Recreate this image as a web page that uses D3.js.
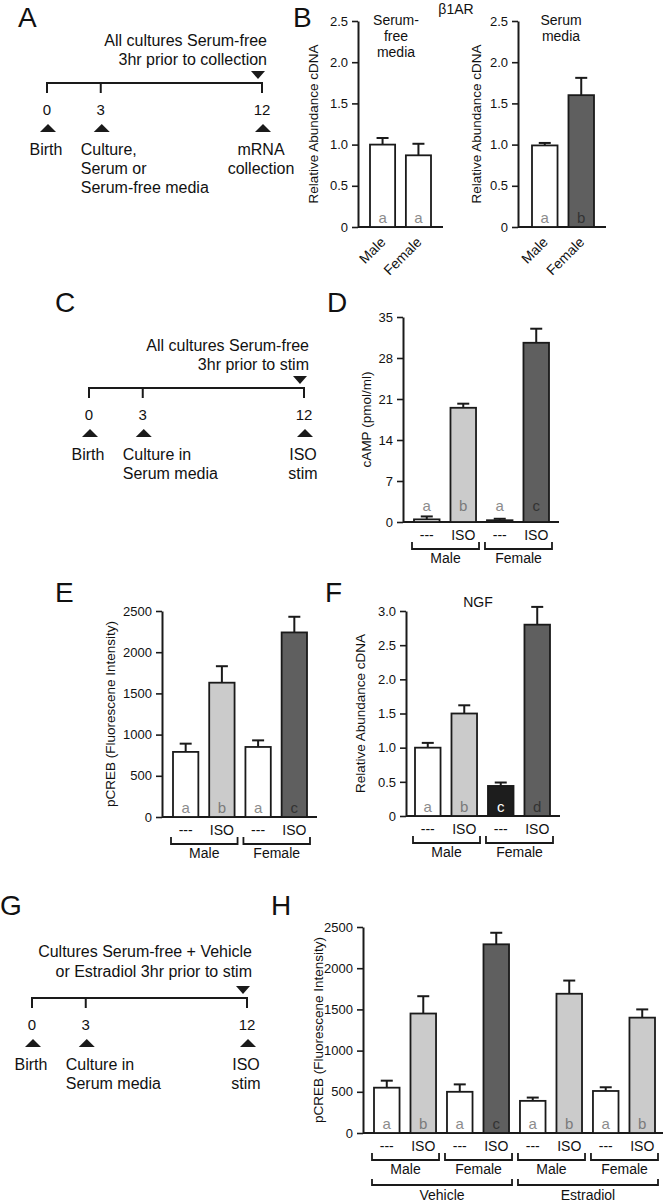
<!DOCTYPE html>
<html lang="en">
<head>
<meta charset="utf-8">
<title>β1AR, cAMP, pCREB and NGF</title>
<script src="https://d3js.org/d3.v7.min.js"></script>
<style>
  body { margin: 0; background: #fff; }
  svg text { font-family: "Liberation Sans", Arial, Helvetica, sans-serif; fill: #111; }
</style>
</head>
<body>
<div id="chart"></div>
<script>
"use strict"

// ---- data ----
// B: beta1AR
const bSexes = ["Male", "Female"];
const bFreeTitle = ["Serum-", "free", "media"];
const bFreeMeans = [1.0, 0.87];
const bFreeErr = [1.08, 1.01];
const bFreeLetters = ["a", "a"];
const bFreeFills = ["white", "white"];
const bSerumTitle = ["Serum", "media"];
const bSerumMeans = [0.99, 1.6];
const bSerumErr = [1.02, 1.81];
const bSerumLetters = ["a", "b"];
const bSerumFills = ["white", "dark"];
const bTicks = [0, 0.5, 1, 1.5, 2, 2.5];

// D: cAMP
const treatments = ["---", "ISO", "---", "ISO"];
const sexGroups = ["Male", "Female"];
const dMeans = [0.45, 19.5, 0.3, 30.6];
const dErr = [0.95, 20.2, 0.55, 33.0];
const dLetters = ["a", "b", "a", "c"];
const dFills = ["white", "light", "white", "dark"];
const dTicks = [0, 7, 14, 21, 28, 35];

// E: pCREB
const eMeans = [790, 1630, 850, 2240];
const eErr = [890, 1830, 930, 2430];
const eLetters = ["a", "b", "a", "c"];
const eFills = ["white", "light", "white", "dark"];
const pcrebTicks = [0, 500, 1000, 1500, 2000, 2500];

// F: NGF
const fMeans = [1.0, 1.5, 0.44, 2.8];
const fErr = [1.07, 1.62, 0.49, 3.06];
const fLetters = ["a", "b", "c", "d"];
const fFills = ["white", "light", "black", "dark"];
const fTicks = [0, 0.5, 1, 1.5, 2, 2.5, 3];

// H: pCREB, vehicle vs estradiol
const hTreatments = ["---", "ISO", "---", "ISO", "---", "ISO", "---", "ISO"];
const hSexGroups = ["Male", "Female", "Male", "Female"];
const hHormones = ["Vehicle", "Estradiol"];
const hMeans = [550, 1450, 500, 2290, 390, 1690, 510, 1400];
const hErr = [635, 1660, 590, 2430, 430, 1850, 555, 1500];
const hLetters = ["a", "b", "a", "c", "a", "b", "a", "b"];
const hFills = ["white", "light", "white", "dark", "white", "light", "white", "light"];

// timelines (days)
const tlDays = [0, 3, 12];
const aTop = ["All cultures Serum-free", "3hr prior to collection"];
const aUnder = [["Birth"], ["Culture,", "Serum or", "Serum-free media"], ["mRNA", "collection"]];
const cTop = ["All cultures Serum-free", "3hr prior to stim"];
const cUnder = [["Birth"], ["Culture in", "Serum media"], ["ISO", "stim"]];
const gTop = ["Cultures Serum-free + Vehicle", "or Estradiol 3hr prior to stim"];
const gUnder = [["Birth"], ["Culture in", "Serum media"], ["ISO", "stim"]];

// ---- styles ----
const fillColor = { white: "#ffffff", light: "#cbcbcb", dark: "#5f5f5f", black: "#1d1d1d" };
const letterColor = { white: "#8c8c8c", light: "#7a7a7a", dark: "#333333", black: "#ffffff" };
const ink = "#1a1a1a";

const svg = d3.select("#chart").append("svg")
  .attr("width", 666).attr("height", 1203);

function panelLetter(t, x, y) {
  svg.append("text").attr("x", x).attr("y", y)
    .style("font-size", "28px").text(t);
}

function barChart(c) {
  const g = svg.append("g");
  const n = c.means.length;
  const y = d3.scaleLinear().domain([0, c.max]).range([c.y0, c.y1]);
  const x = d3.scaleBand().domain(d3.range(n)).range([c.x0, c.x1]).paddingInner(0.3);

  const ax = g.append("g")
    .attr("transform", "translate(" + c.axisX + ",0)")
    .call(d3.axisLeft(y).tickValues(c.ticks).tickFormat(c.fmt)
      .tickSize(6).tickPadding(4).tickSizeOuter(0));
  ax.select(".domain").attr("stroke", ink).attr("stroke-width", 2);
  ax.selectAll(".tick line").attr("stroke", ink).attr("stroke-width", 1.6);
  ax.selectAll(".tick text").style("font-size", "13px").attr("fill", "#111")
    .attr("font-family", null);

  g.append("line")
    .attr("x1", c.axisX).attr("x2", c.xEnd)
    .attr("y1", c.y0).attr("y2", c.y0)
    .attr("stroke", ink).attr("stroke-width", 2);

  const idx = d3.range(n);
  // error bars (upper only)
  g.selectAll(".err").data(idx).enter().append("line")
    .attr("x1", i => x(i) + x.bandwidth() / 2).attr("x2", i => x(i) + x.bandwidth() / 2)
    .attr("y1", i => y(c.means[i])).attr("y2", i => y(c.err[i]))
    .attr("stroke", ink).attr("stroke-width", 2);
  g.selectAll(".cap").data(idx).enter().append("line")
    .attr("x1", i => x(i) + x.bandwidth() / 2 - 6).attr("x2", i => x(i) + x.bandwidth() / 2 + 6)
    .attr("y1", i => y(c.err[i])).attr("y2", i => y(c.err[i]))
    .attr("stroke", ink).attr("stroke-width", 2);

  g.selectAll("rect").data(idx).enter().append("rect")
    .attr("x", i => x(i))
    .attr("width", x.bandwidth())
    .attr("y", i => y(c.means[i]))
    .attr("height", i => c.y0 - y(c.means[i]))
    .attr("fill", i => fillColor[c.fills[i]])
    .attr("stroke", ink).attr("stroke-width", 1.8);

  g.selectAll(".letter").data(idx).enter().append("text")
    .attr("x", i => x(i) + x.bandwidth() / 2)
    .attr("y", c.y0 - (c.letterOff || 4))
    .attr("text-anchor", "middle")
    .style("font-size", "15px")
    .style("fill", i => letterColor[c.fills[i]])
    .text(i => c.letters[i]);

  // y label
  g.append("text")
    .attr("transform", "translate(" + (c.axisX + c.labelDx) + "," + ((c.y0 + c.y1) / 2) + ") rotate(-90)")
    .attr("text-anchor", "middle")
    .attr("dy", "0.35em")
    .style("font-size", "13.5px")
    .text(c.label);

  // category labels
  if (c.rotated) {
    g.selectAll(".cat").data(idx).enter().append("text")
      .attr("transform", i => "translate(" + (x(i) + x.bandwidth() / 2 + 4) + "," + (c.y0 + 16) + ") rotate(-45)")
      .attr("text-anchor", "end")
      .style("font-size", "14px")
      .text(i => c.cats[i]);
  } else {
    g.selectAll(".cat").data(idx).enter().append("text")
      .attr("x", i => x(i) + x.bandwidth() / 2)
      .attr("y", c.y0 + 18)
      .attr("text-anchor", "middle")
      .style("font-size", "14px")
      .text(i => c.cats[i]);
  }

  // brackets: groups of bars
  function bracket(first, last, top, bottom, label, labelY) {
    const xa = x(first) - 2, xb = x(last) + x.bandwidth() + 3;
    g.append("path")
      .attr("d", "M" + xa + "," + top + "V" + bottom + "H" + xb + "V" + top)
      .attr("fill", "none").attr("stroke", ink).attr("stroke-width", 1.8);
    g.append("text").attr("x", (xa + xb) / 2).attr("y", labelY)
      .attr("text-anchor", "middle").style("font-size", "14px").text(label);
  }
  if (c.groups) {
    const per = n / c.groups.length;
    c.groups.forEach((lab, k) => bracket(k * per, k * per + per - 1, c.y0 + 20, c.y0 + 27, lab, c.y0 + 41));
  }
  if (c.supers) {
    const per = n / c.supers.length;
    c.supers.forEach((lab, k) => bracket(k * per, k * per + per - 1, c.y0 + 46, c.y0 + 52, lab, c.y0 + 67));
  }
  return g;
}

function timeline(c) {
  const g = svg.append("g");
  const x = d3.scaleLinear().domain([0, 12]).range([c.x0, c.x1]);
  const L = c.y;
  const xe = x(12);

  c.top.forEach((t, k) => {
    g.append("text").attr("x", xe + 5).attr("y", L + c.topOff[k])
      .attr("text-anchor", "end").style("font-size", "16px").text(t);
  });
  g.append("path")
    .attr("d", d3.line()([[xe - 11, L - 12], [xe + 3, L - 12], [xe - 4, L - 4]]) + "Z")
    .attr("fill", ink);

  g.append("line").attr("x1", x(0)).attr("x2", xe).attr("y1", L).attr("y2", L)
    .attr("stroke", ink).attr("stroke-width", 2);
  g.selectAll(".tk").data(tlDays).enter().append("line")
    .attr("x1", d => x(d)).attr("x2", d => x(d))
    .attr("y1", L - 1).attr("y2", L + 10)
    .attr("stroke", ink).attr("stroke-width", 2);
  g.selectAll(".num").data(tlDays).enter().append("text")
    .attr("x", d => x(d)).attr("y", L + 32)
    .attr("text-anchor", "middle").style("font-size", "15px").text(d => d);
  g.selectAll(".up").data(tlDays).enter().append("path")
    .attr("d", d => d3.line()([[x(d) - 7, L + 49], [x(d) + 9, L + 49], [x(d) + 1, L + 41]]) + "Z")
    .attr("fill", ink);

  c.under.forEach((lines, k) => {
    const d = tlDays[k];
    lines.forEach((t, j) => {
      const tx = g.append("text").attr("y", L + 72 + j * 19).style("font-size", "16px").text(t);
      if (k === 1) tx.attr("x", x(d) - 20).attr("text-anchor", "start");
      else tx.attr("x", x(d) - 1).attr("text-anchor", "middle");
    });
  });
}

const fmt1 = d => d === 0 ? "0" : d3.format(".1f")(d);
const fmt0 = d => String(d);

// ---- A ----
panelLetter("A", 18, 27);
timeline({ x0: 47, x1: 262, y: 83, top: aTop, topOff: [-37, -18], under: aUnder });

// ---- B ----
panelLetter("B", 293, 27);
svg.append("text").attr("x", 456).attr("y", 14).attr("text-anchor", "middle")
  .style("font-size", "14px").text("β1AR");
barChart({ means: bFreeMeans, err: bFreeErr, letters: bFreeLetters, fills: bFreeFills, cats: bSexes,
  rotated: true, max: 2.5, ticks: bTicks, fmt: fmt1, y0: 227, y1: 21, axisX: 358, xEnd: 443,
  x0: 370, x1: 431, labelDx: -45, label: "Relative Abundance cDNA" });
bFreeTitle.forEach((t, k) => svg.append("text").attr("x", 396).attr("y", 25 + k * 16)
  .attr("text-anchor", "middle").style("font-size", "14px").text(t));
barChart({ means: bSerumMeans, err: bSerumErr, letters: bSerumLetters, fills: bSerumFills, cats: bSexes,
  rotated: true, max: 2.5, ticks: bTicks, fmt: fmt1, y0: 227, y1: 21, axisX: 518, xEnd: 606,
  x0: 532, x1: 594, labelDx: -42, label: "Relative Abundance cDNA" });
bSerumTitle.forEach((t, k) => svg.append("text").attr("x", 561).attr("y", 25 + k * 16)
  .attr("text-anchor", "middle").style("font-size", "14px").text(t));

// ---- C ----
panelLetter("C", 55, 312);
timeline({ x0: 89, x1: 304, y: 388, top: cTop, topOff: [-37, -18], under: cUnder });

// ---- D ----
panelLetter("D", 327, 312);
barChart({ means: dMeans, err: dErr, letters: dLetters, fills: dFills, cats: treatments,
  groups: sexGroups, max: 35, ticks: dTicks, fmt: fmt0, y0: 522, y1: 317, axisX: 403, xEnd: 559,
  x0: 414, x1: 549, labelDx: -37, letterOff: 11, label: "cAMP (pmol/ml)" });

// ---- E ----
panelLetter("E", 55, 602);
barChart({ means: eMeans, err: eErr, letters: eLetters, fills: eFills, cats: treatments,
  groups: sexGroups, max: 2500, ticks: pcrebTicks, fmt: fmt0, y0: 817, y1: 611, axisX: 162, xEnd: 317,
  x0: 173, x1: 307, labelDx: -52, label: "pCREB (Fluorescene Intensity)" });

// ---- F ----
panelLetter("F", 325, 602);
svg.append("text").attr("x", 478).attr("y", 607).attr("text-anchor", "middle")
  .style("font-size", "14px").text("NGF");
barChart({ means: fMeans, err: fErr, letters: fLetters, fills: fFills, cats: treatments,
  groups: sexGroups, max: 3, ticks: fTicks, fmt: fmt1, y0: 816, y1: 611, axisX: 406, xEnd: 560,
  x0: 415, x1: 550, labelDx: -46, label: "Relative Abundance cDNA" });

// ---- G ----
panelLetter("G", 0, 915);
timeline({ x0: 32, x1: 247, y: 998, top: gTop, topOff: [-41, -21], under: gUnder });

// ---- H ----
panelLetter("H", 271, 915);
barChart({ means: hMeans, err: hErr, letters: hLetters, fills: hFills, cats: hTreatments,
  groups: hSexGroups, supers: hHormones, max: 2500, ticks: pcrebTicks, fmt: fmt0,
  y0: 1133, y1: 927, axisX: 363, xEnd: 663, x0: 374, x1: 655, labelDx: -45,
  label: "pCREB (Fluorescene Intensity)" });
</script>
</body>
</html>
